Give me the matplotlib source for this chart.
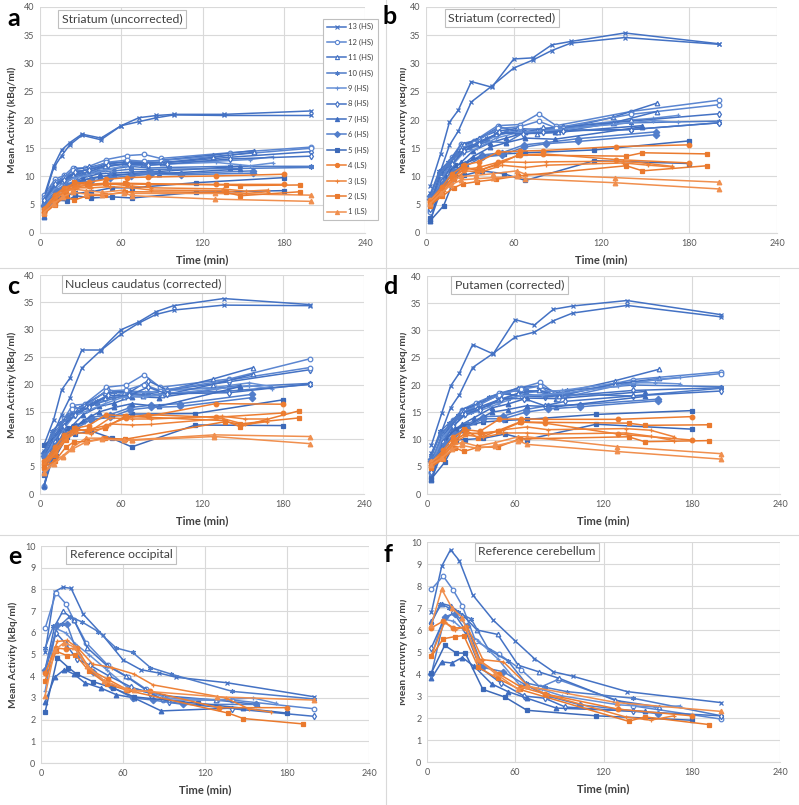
import matplotlib
matplotlib.use("Agg")
import matplotlib.pyplot as plt
from matplotlib.lines import Line2D
from matplotlib.transforms import Bbox, TransformedBbox

plt.rcParams["font.family"] = ["Lato", "DejaVu Sans"]

# --- Subjects & scan times (min) ---
SUBJECTS = ["13 (HS)", "12 (HS)", "11 (HS)", "10 (HS)", "9 (HS)", "8 (HS)",
            "7 (HS)", "6 (HS)", "5 (HS)", "4 (LS)", "3 (LS)", "2 (LS)", "1 (LS)"]

T13 = [3, 10, 16, 22, 31, 45, 60, 73, 86, 99, 136, 200]
T12 = [3, 11, 18, 24, 33, 49, 64, 77, 89, 140, 200]
T11 = [3, 10, 16, 24, 34, 48, 62, 76, 90, 128, 158]
T10 = [3, 9, 15, 21, 30, 42, 55, 67, 80, 95, 140, 200]
T9 = [3, 11, 18, 25, 35, 48, 63, 78, 92, 130, 155, 172]
T8 = [3, 11, 18, 26, 36, 50, 66, 80, 94, 140, 200]
T7 = [3, 10, 17, 24, 32, 44, 55, 68, 88, 148]
T6 = [3, 12, 19, 27, 38, 52, 67, 82, 104, 157]
T5 = [3, 12, 20, 26, 38, 53, 68, 115, 180]
T4 = [3, 11, 18, 26, 36, 49, 64, 80, 130, 180]
T3 = [3, 12, 19, 27, 38, 52, 68, 82, 135, 152, 168]
T2 = [3, 11, 19, 25, 35, 48, 63, 137, 148, 192]
T1 = [3, 10, 17, 24, 34, 46, 62, 68, 129, 200]
TIMES = [T13, T12, T11, T10, T9, T8, T7, T6, T5, T4, T3, T2, T1]

# --- a: Striatum (uncorrected), left / right ---
STR_UNC_L = [
    [6.5, 11.8, 14.7, 16.0, 17.5, 16.8, 19.0, 20.4, 20.8, 21.0, 21.0, 21.6],
    [6.7, 9.5, 10.2, 11.5, 11.5, 13.0, 13.7, 13.9, 13.2, 14.2, 15.2],
    [6.0, 8.5, 9.6, 10.5, 11.0, 12.2, 12.5, 12.6, 12.9, 13.8, 14.6],
    [5.8, 8.2, 9.4, 10.0, 10.6, 11.0, 11.4, 11.8, 11.5, 11.6, 11.8, 11.8],
    [5.5, 8.2, 9.3, 10.0, 10.6, 11.6, 12.3, 12.4, 12.6, 12.7, 13.0, 13.5],
    [6.2, 9.0, 9.9, 11.3, 11.6, 12.4, 12.6, 12.4, 12.5, 13.4, 14.4],
    [3.0, 6.5, 8.2, 9.0, 9.8, 10.5, 10.6, 10.8, 10.9, 11.8],
    [5.0, 7.6, 8.6, 9.2, 9.6, 10.2, 10.5, 10.8, 10.5, 11.0],
    [4.6, 6.2, 6.8, 7.0, 7.3, 8.0, 8.0, 8.9, 9.8],
    [4.2, 6.8, 8.0, 8.8, 9.0, 9.5, 9.8, 9.9, 10.1, 10.4],
    [4.4, 6.8, 7.9, 8.5, 8.5, 8.7, 8.3, 8.0, 7.8, 7.4, 7.6],
    [3.6, 5.2, 7.2, 9.0, 8.6, 8.8, 8.8, 8.5, 8.4, 8.5],
    [4.0, 5.8, 7.0, 7.8, 7.5, 7.2, 7.6, 7.0, 7.0, 6.7],
]
STR_UNC_R = [
    [6.0, 11.5, 13.7, 15.6, 17.3, 16.5, 19.0, 19.7, 20.4, 20.9, 20.8, 20.8],
    [6.2, 9.0, 9.8, 11.2, 11.0, 12.5, 12.9, 12.7, 12.8, 13.8, 15.0],
    [5.6, 8.0, 9.2, 10.2, 10.7, 11.8, 12.2, 12.3, 12.4, 13.4, 14.3],
    [5.4, 7.8, 9.0, 9.6, 10.2, 10.8, 11.0, 11.3, 11.2, 11.3, 11.4, 11.6],
    [5.2, 7.8, 8.9, 9.7, 10.2, 11.2, 11.9, 12.0, 12.2, 12.5, 11.9, 12.4],
    [5.8, 8.6, 9.4, 10.8, 11.2, 12.0, 12.2, 12.0, 12.2, 13.1, 13.6],
    [2.8, 6.2, 7.8, 8.6, 9.4, 10.0, 10.2, 10.4, 10.5, 11.3],
    [4.8, 7.2, 8.2, 8.8, 9.2, 9.8, 10.1, 10.4, 10.3, 10.6],
    [4.2, 5.8, 5.7, 6.6, 6.2, 6.4, 6.2, 7.2, 7.5],
    [3.8, 6.2, 7.4, 8.2, 8.4, 8.6, 8.7, 8.6, 8.6, 8.6],
    [4.0, 6.3, 7.4, 8.0, 8.0, 8.2, 8.0, 7.6, 7.5, 7.0, 7.3],
    [3.4, 5.0, 6.5, 5.8, 6.6, 6.7, 7.3, 7.2, 6.6, 7.3],
    [3.6, 5.2, 6.4, 7.2, 6.9, 6.8, 7.1, 6.6, 6.0, 5.6],
]

# --- b: Striatum (corrected) ---
STR_COR_L = [
    [8.3, 14.0, 19.6, 21.7, 26.8, 25.8, 30.8, 31.0, 33.3, 33.9, 35.4, 33.5],
    [4.0, 10.5, 13.5, 15.8, 16.3, 19.0, 19.2, 21.1, 19.0, 21.5, 23.5],
    [5.5, 10.8, 12.8, 15.5, 16.5, 18.0, 18.5, 18.3, 18.2, 20.5, 23.0],
    [6.8, 11.0, 12.5, 14.2, 15.5, 16.8, 18.0, 18.3, 18.4, 18.6, 19.5, 19.8],
    [5.0, 10.0, 12.5, 14.5, 15.5, 17.2, 18.2, 18.4, 18.7, 19.8, 20.3, 20.8],
    [4.5, 9.8, 13.0, 15.5, 16.6, 18.8, 17.8, 18.5, 18.8, 19.8, 21.1],
    [2.4, 8.0, 11.0, 12.5, 14.5, 16.0, 16.8, 17.8, 17.8, 19.0],
    [6.5, 9.5, 11.0, 12.3, 13.8, 14.2, 15.6, 16.0, 16.7, 17.9],
    [2.6, 10.0, 12.0, 12.3, 13.5, 14.0, 14.2, 14.7, 16.3],
    [5.8, 8.2, 10.5, 12.0, 12.6, 14.3, 14.5, 14.6, 15.3, 15.6],
    [5.6, 8.0, 10.0, 11.5, 11.2, 12.6, 12.5, 12.6, 12.7, 12.3, 11.8],
    [4.8, 7.0, 9.5, 11.8, 11.0, 12.0, 13.8, 13.6, 14.2, 14.0],
    [5.8, 7.5, 9.0, 10.0, 10.2, 10.5, 11.0, 10.4, 9.8, 9.0],
]
STR_COR_R = [
    [7.0, 11.0, 15.5, 18.0, 23.2, 26.0, 29.2, 30.6, 32.3, 33.6, 34.6, 33.4],
    [3.8, 9.8, 12.8, 15.0, 16.0, 18.5, 18.8, 19.8, 18.6, 21.0, 22.7],
    [5.2, 10.2, 12.2, 14.8, 15.8, 17.5, 17.8, 17.6, 17.8, 19.5, 21.5],
    [6.4, 10.5, 12.0, 13.8, 15.0, 16.2, 16.0, 17.8, 17.8, 18.2, 18.3, 19.5],
    [4.8, 9.5, 12.0, 14.0, 15.0, 16.8, 17.8, 18.0, 18.3, 19.3, 19.9, 19.6],
    [4.2, 9.2, 12.2, 14.6, 15.8, 17.8, 17.5, 17.8, 18.1, 18.3, 19.5],
    [2.2, 7.4, 10.2, 11.8, 13.5, 15.2, 16.0, 16.8, 16.6, 18.8],
    [6.0, 9.0, 10.5, 11.8, 13.4, 13.8, 15.2, 15.8, 16.2, 17.4],
    [2.2, 4.8, 10.0, 10.2, 11.0, 10.5, 9.3, 12.8, 12.3],
    [5.4, 7.6, 9.8, 11.2, 11.6, 12.5, 13.8, 14.0, 13.0, 12.4],
    [5.2, 7.4, 9.5, 11.0, 10.8, 12.0, 11.6, 12.0, 12.4, 12.0, 11.7],
    [5.0, 6.5, 8.0, 8.7, 9.1, 9.5, 10.1, 11.9, 11.0, 11.9],
    [5.2, 7.0, 8.5, 9.4, 9.6, 9.8, 10.0, 9.6, 8.9, 7.8],
]

# --- c: Nucleus caudatus (corrected) ---
CAU_COR_L = [
    [9.0, 13.5, 19.0, 21.1, 26.3, 26.3, 30.0, 31.4, 33.3, 34.4, 35.7, 34.6],
    [1.2, 9.5, 13.8, 16.2, 16.4, 19.5, 19.9, 21.8, 19.5, 21.0, 24.7],
    [7.5, 10.5, 12.5, 15.0, 16.5, 18.5, 18.5, 18.2, 18.6, 21.0, 23.1],
    [7.6, 11.5, 13.0, 14.5, 15.8, 17.0, 18.6, 18.8, 18.6, 19.0, 19.5, 20.2],
    [6.5, 10.5, 12.5, 14.8, 15.8, 17.2, 18.6, 18.6, 18.8, 19.5, 20.3, 19.6],
    [4.0, 10.2, 13.2, 15.5, 16.5, 19.0, 18.5, 20.7, 19.0, 20.5, 22.7],
    [1.6, 7.8, 11.0, 12.5, 14.5, 16.0, 16.6, 17.8, 17.6, 19.8],
    [7.5, 9.5, 11.0, 12.4, 14.0, 14.5, 15.8, 16.2, 16.5, 18.2],
    [9.0, 10.5, 12.0, 12.5, 13.5, 14.2, 14.6, 14.7, 17.2],
    [6.0, 8.5, 10.8, 12.0, 12.5, 14.5, 14.2, 14.2, 16.5, 16.4],
    [5.8, 8.2, 10.5, 11.8, 11.6, 13.9, 13.7, 13.7, 14.2, 13.7, 13.7],
    [4.8, 7.2, 9.8, 12.0, 11.5, 12.0, 14.2, 13.4, 12.3, 15.2],
    [4.0, 6.0, 7.0, 8.5, 10.2, 10.2, 10.0, 9.9, 10.8, 10.5],
]
CAU_COR_R = [
    [7.8, 11.0, 14.5, 17.5, 23.0, 26.2, 29.2, 31.2, 32.8, 33.6, 34.5, 34.4],
    [1.5, 9.0, 13.0, 15.5, 16.0, 18.8, 19.0, 20.0, 18.9, 20.8, 23.1],
    [7.0, 10.0, 12.0, 14.5, 16.0, 17.5, 17.8, 17.9, 18.0, 20.0, 21.9],
    [7.2, 10.8, 12.5, 14.0, 15.2, 16.5, 17.5, 18.2, 18.0, 18.4, 18.8, 20.0],
    [6.0, 10.0, 12.0, 14.2, 15.2, 16.5, 17.8, 17.8, 18.2, 19.2, 19.8, 19.2],
    [3.8, 9.5, 12.5, 14.5, 15.8, 18.0, 18.0, 19.5, 18.3, 18.5, 20.1],
    [1.5, 7.0, 10.2, 11.8, 13.4, 15.0, 15.8, 16.5, 16.0, 19.6],
    [7.0, 9.0, 10.5, 12.0, 13.6, 14.0, 15.4, 15.8, 16.0, 17.6],
    [3.5, 7.0, 10.5, 11.0, 11.5, 10.2, 8.6, 12.6, 12.5],
    [5.5, 7.8, 10.0, 11.5, 11.8, 12.5, 13.9, 14.5, 14.0, 14.8],
    [5.4, 7.6, 10.0, 11.2, 11.0, 12.8, 12.6, 12.7, 13.8, 12.7, 13.2],
    [5.0, 6.0, 8.5, 9.5, 9.6, 10.2, 10.0, 13.2, 12.8, 13.9],
    [3.8, 5.5, 6.8, 8.2, 9.5, 10.0, 9.8, 9.8, 10.5, 9.2],
]

# --- d: Putamen (corrected) ---
PUT_COR_L = [
    [9.0, 14.8, 19.8, 22.2, 27.4, 25.7, 32.0, 31.0, 33.9, 34.5, 35.5, 32.9],
    [4.0, 10.5, 13.5, 15.5, 16.7, 18.5, 19.5, 20.5, 18.0, 21.0, 22.4],
    [6.0, 10.8, 13.0, 15.5, 16.5, 18.0, 19.5, 19.8, 18.5, 20.8, 22.9],
    [7.2, 11.5, 13.0, 14.5, 15.5, 17.8, 18.8, 19.0, 18.8, 19.0, 20.0, 19.7],
    [6.0, 11.0, 13.0, 14.8, 15.6, 17.0, 18.5, 18.8, 19.0, 20.4, 20.4, 20.2],
    [4.2, 10.0, 13.2, 15.5, 16.5, 18.4, 18.0, 17.8, 18.0, 19.0, 19.5],
    [2.8, 8.0, 11.5, 12.8, 14.0, 15.8, 16.5, 17.6, 17.5, 18.8],
    [6.5, 9.8, 11.5, 12.8, 14.2, 14.3, 15.5, 16.2, 16.4, 17.4],
    [3.2, 10.0, 12.0, 12.5, 13.2, 13.5, 13.7, 14.6, 15.3],
    [5.8, 8.0, 10.5, 11.8, 11.5, 13.7, 13.8, 13.7, 13.7, 14.2],
    [5.4, 7.6, 10.0, 11.2, 11.0, 11.8, 12.3, 11.8, 12.0, 11.7, 10.5],
    [4.8, 7.0, 9.5, 12.0, 10.2, 11.6, 13.2, 13.0, 12.6, 12.7],
    [6.0, 7.2, 8.8, 9.5, 8.8, 9.4, 10.5, 10.5, 8.7, 7.4],
]
PUT_COR_R = [
    [7.5, 11.5, 15.8, 18.2, 23.2, 25.8, 28.8, 29.7, 31.8, 33.2, 34.6, 32.5],
    [3.8, 9.8, 12.8, 15.0, 16.0, 18.2, 19.2, 19.8, 17.5, 20.5, 22.1],
    [5.6, 10.2, 12.5, 14.8, 15.8, 17.2, 18.5, 19.0, 18.0, 20.2, 21.2],
    [6.8, 11.0, 12.5, 14.0, 15.0, 16.3, 17.5, 18.3, 18.0, 18.3, 18.0, 19.4],
    [5.6, 10.5, 12.5, 14.3, 15.2, 16.5, 18.0, 18.2, 18.5, 19.8, 21.0, 21.4],
    [4.0, 9.5, 12.5, 14.6, 15.5, 17.5, 17.5, 16.2, 17.0, 18.0, 18.9],
    [2.6, 7.5, 10.5, 11.8, 13.2, 15.0, 15.5, 16.2, 16.0, 17.9],
    [6.0, 9.2, 11.0, 12.2, 13.8, 13.8, 15.0, 15.6, 16.0, 17.1],
    [2.8, 5.8, 10.0, 10.0, 10.2, 11.0, 10.0, 12.8, 11.9],
    [5.4, 7.5, 9.8, 11.0, 11.2, 11.5, 13.2, 13.0, 11.0, 9.9],
    [5.0, 7.2, 9.5, 10.8, 10.4, 11.2, 11.2, 11.0, 11.2, 10.6, 9.8],
    [5.0, 6.4, 8.5, 7.8, 8.6, 8.6, 10.1, 10.5, 9.6, 9.8],
    [5.4, 6.6, 8.2, 8.9, 8.4, 8.8, 9.8, 9.1, 7.8, 6.4],
]

# --- e: Reference occipital ---
REF_OCC = [
    [5.1, 7.9, 8.1, 8.05, 6.85, 5.9, 4.75, 4.3, 4.15, 3.95, 3.7, 3.05],
    [6.2, 7.85, 7.35, 6.6, 5.55, 4.5, 3.95, 3.4, 2.9, 2.9, 2.5],
    [4.3, 6.3, 7.0, 6.6, 5.3, 4.5, 4.0, 3.4, 3.1, 2.9, 2.7],
    [5.3, 6.3, 6.4, 6.75, 6.5, 6.05, 5.3, 5.1, 4.4, 4.1, 3.3, 2.95],
    [3.3, 6.2, 6.0, 5.5, 5.0, 4.3, 3.5, 3.3, 3.0, 2.9, 3.0, 2.75],
    [4.2, 6.0, 5.5, 4.8, 4.5, 4.0, 3.5, 3.2, 2.8, 2.5, 2.15],
    [2.8, 3.95, 4.3, 4.1, 3.7, 3.45, 3.15, 3.0, 2.4, 2.55],
    [4.3, 6.35, 6.4, 5.0, 4.2, 3.5, 3.0, 2.9, 2.7, 2.7],
    [2.35, 4.85, 4.4, 4.1, 3.75, 3.45, 3.05, 2.75, 2.3],
    [4.15, 5.3, 5.25, 5.3, 4.3, 3.85, 3.35, 3.3, 2.55, 2.55],
    [4.1, 5.6, 5.65, 5.3, 4.55, 4.4, 4.1, 3.6, 3.0, 2.5, 2.35],
    [3.8, 5.15, 4.95, 5.0, 4.25, 3.65, 3.35, 2.3, 2.05, 1.8],
    [3.1, 5.2, 5.55, 5.35, 4.45, 3.8, 3.4, 3.35, 3.05, 2.9],
]

# --- f: Reference cerebellum ---
REF_CER = [
    [6.8, 8.9, 9.65, 9.15, 7.6, 6.45, 5.5, 4.7, 4.1, 3.9, 3.2, 2.7],
    [7.85, 8.45, 7.8, 7.1, 5.5, 4.9, 4.2, 3.4, 3.75, 2.55, 1.95],
    [6.4, 7.2, 7.1, 6.7, 6.0, 5.8, 4.4, 4.1, 3.8, 2.8, 2.5],
    [6.3, 7.2, 7.0, 6.8, 6.5, 5.1, 4.6, 3.6, 3.4, 3.2, 2.9, 2.1],
    [4.8, 6.5, 6.4, 6.0, 5.5, 4.7, 3.5, 3.3, 3.0, 2.6, 2.5, 2.55],
    [5.2, 6.4, 6.8, 6.0, 4.3, 3.6, 3.0, 2.9, 2.5, 2.3, 2.1],
    [3.8, 4.55, 4.5, 4.75, 4.35, 3.55, 3.2, 2.9, 2.45, 2.3],
    [4.0, 6.6, 6.75, 6.2, 4.3, 4.1, 3.5, 3.0, 2.6, 2.2],
    [4.05, 5.3, 4.95, 4.95, 3.3, 2.95, 2.35, 2.1, 1.9],
    [6.1, 6.4, 6.1, 6.1, 4.6, 4.0, 3.4, 3.1, 2.4, 2.1],
    [4.85, 6.35, 6.0, 6.2, 4.65, 4.55, 3.5, 3.05, 2.05, 1.9, 2.1],
    [4.8, 5.6, 5.7, 5.75, 4.3, 3.8, 3.3, 1.85, 2.05, 1.7],
    [6.25, 7.85, 7.0, 6.55, 4.7, 4.05, 3.3, 3.45, 2.7, 2.3],
]

# --- Styling ---
W, H = 799, 805
BLUE = "#4472C4"
ORANGE = "#ED7D31"
COLORS = [BLUE, "#5B86D1", BLUE, "#4E7BC8", "#6690D6", BLUE, "#3F6DC0", "#527ECB", "#3C69B8",
          ORANGE, "#EE8238", "#EA7A2E", "#F08F4E"]
# (marker, open?)
MARKERS = [("x", False), ("o", True), ("^", True), ((6, 2, 0), False), ("+", False),
           ("d", True), ("^", False), ("D", False), ("s", False),
           ("o", False), ("+", False), ("s", False), ("^", False)]
GRID = "#D9D9D9"
TICK = "#595959"


def px_axes(fig, left, right, top, bottom):
    return fig.add_axes([left / W, 1 - bottom / H, (right - left) / W, (bottom - top) / H])


def style_axes(ax, ymax, ystep):
    ax.set_xlim(0, 240)
    ax.set_ylim(0, ymax)
    ax.set_xticks(range(0, 241, 60))
    yt = [i * ystep for i in range(int(round(ymax / ystep)) + 1)]
    ax.set_yticks(yt)
    ax.set_yticklabels([f"{v:g}" for v in yt])
    ax.grid(True, color=GRID, lw=0.8)
    ax.set_axisbelow(True)
    for s in ("top", "right", "left"):
        ax.spines[s].set_visible(False)
    ax.spines["bottom"].set_color(GRID)
    ax.tick_params(length=0, labelsize=6.5, colors=TICK, pad=4)
    ax.set_xlabel("Time (min)", fontsize=8, fontweight="bold", color="#404040", labelpad=5)
    ax.set_ylabel("Mean Activity (kBq/ml)", fontsize=7.3, fontweight="bold", color="#404040",
                  labelpad=5)


def draw_series(ax, t, y, i):
    m, hollow = MARKERS[i]
    ax.plot(t, y, color=COLORS[i], lw=1.1, marker=m, ms=3.3, mew=0.9,
            mfc="white" if hollow else COLORS[i], mec=COLORS[i])


def panel(fig, rect, letter, title, title_xy, series_sets, ymax, ystep, letter_xy,
          clip_left=None):
    ax = px_axes(fig, *rect)
    style_axes(ax, ymax, ystep)
    # blue first, orange on top
    for data in series_sets:
        for i in range(9):
            draw_series(ax, TIMES[i], data[i], i)
    for data in series_sets:
        for i in range(9, 13):
            draw_series(ax, TIMES[i], data[i], i)
    ax.text(title_xy[0], title_xy[1], title, transform=ax.transAxes, fontsize=8.8,
            color="#404040", va="top", ha="left",
            bbox=dict(boxstyle="square,pad=0.3", fc="white", ec="#BFBFBF", lw=0.8))
    fig.text(letter_xy[0] / W, 1 - letter_xy[1] / H, letter, fontsize=18,
             fontweight="bold", va="center", ha="left")
    if clip_left is not None:
        # right-hand panels: y label is cropped at the panel edge
        lbl = ax.yaxis.label
        lbl.set_clip_box(TransformedBbox(Bbox([[clip_left / W, 0], [1, 1]]), fig.transFigure))
        lbl.set_clip_on(True)
        ax.yaxis.set_label_coords(-(rect[0] - 408) / (rect[1] - rect[0]), 0.5)
    return ax


fig = plt.figure(figsize=(W / 100, H / 100), dpi=100)

# panel separators
fig.add_artist(Line2D([386 / W, 386 / W], [0, 1], color=GRID, lw=0.8))
for y in (268, 535):
    fig.add_artist(Line2D([0, 1], [1 - y / H, 1 - y / H], color=GRID, lw=0.8))

ax_a = panel(fig, (40, 365, 7, 233), "a", "Striatum (uncorrected)", (0.068, 0.97),
             [STR_UNC_L, STR_UNC_R], 40, 5, (7, 19))
panel(fig, (426, 777, 7, 233), "b", "Striatum (corrected)", (0.064, 0.975),
      [STR_COR_L, STR_COR_R], 40, 5, (383, 17), clip_left=400)
panel(fig, (40, 364, 275, 494), "c", "Nucleus caudatus (corrected)", (0.078, 0.985),
      [CAU_COR_L, CAU_COR_R], 40, 5, (7, 286))
panel(fig, (427, 780, 276, 494), "d", "Putamen (corrected)", (0.078, 0.985),
      [PUT_COR_L, PUT_COR_R], 40, 5, (383, 287), clip_left=400)
panel(fig, (41, 369, 546, 763), "e", "Reference occipital", (0.088, 0.985),
      [REF_OCC], 10, 1, (8, 556))
panel(fig, (427, 780, 542, 762), "f", "Reference cerebellum", (0.145, 0.98),
      [REF_CER], 10, 1, (384, 554), clip_left=400)

# legend (one entry per subject)
handles = []
for i, name in enumerate(SUBJECTS):
    m, hollow = MARKERS[i]
    handles.append(Line2D([], [], color=COLORS[i], lw=1.1, marker=m, ms=3.0, mew=0.8,
                          mfc="white" if hollow else COLORS[i], mec=COLORS[i], label=name))
leg = ax_a.legend(handles=handles, loc="upper left", bbox_to_anchor=(0.871, 0.947),
                  fontsize=5.5, frameon=True, fancybox=False, edgecolor="#BFBFBF",
                  handlelength=2.5, labelspacing=1.08, borderpad=0.55, handletextpad=0.25,
                  borderaxespad=0, framealpha=1)
leg.get_frame().set_linewidth(0.8)
for txt in leg.get_texts():
    txt.set_color("#404040")

fig.savefig("out.png", dpi=100, facecolor="white")
